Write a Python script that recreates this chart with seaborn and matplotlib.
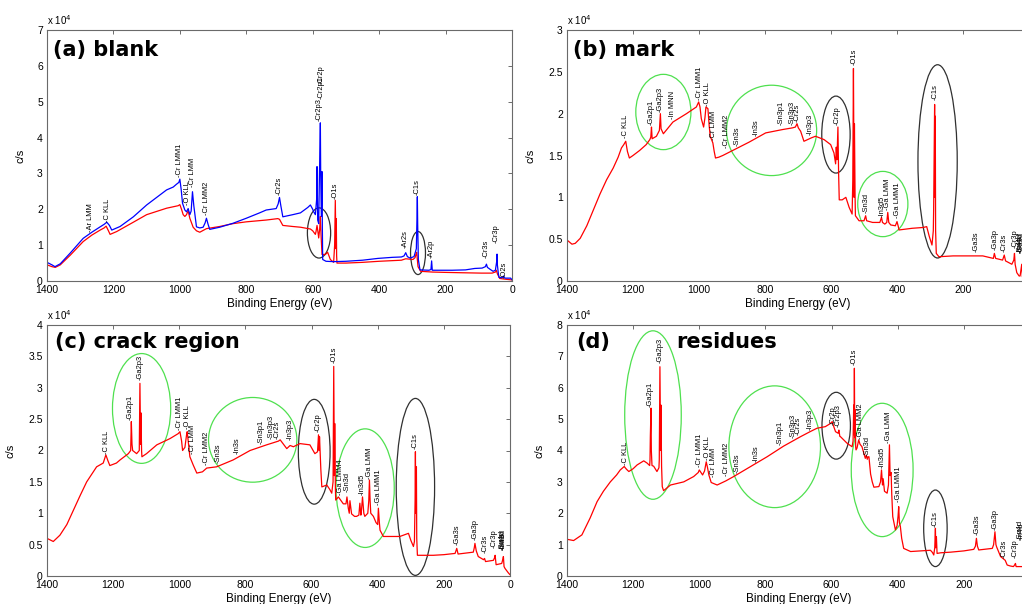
import numpy as np
import pandas as pd
import matplotlib
matplotlib.use("Agg")
import matplotlib.pyplot as plt
from matplotlib.patches import Ellipse
from matplotlib.ticker import FuncFormatter, MultipleLocator
import seaborn as sns

sns.set_style("white")
plt.rcParams["font.family"] = ["Liberation Sans", "DejaVu Sans"]
plt.rcParams["text.color"] = "black"
plt.rcParams["axes.labelcolor"] = "black"

# ---------------------------------------------------------------------------
# XPS survey spectra: (binding energy [eV], intensity [10^4 c/s])
# ---------------------------------------------------------------------------
blank_red = [
    (1400, 0.45), (1385, 0.40), (1375, 0.38), (1360, 0.45), (1330, 0.72), (1291, 1.10),
    (1265, 1.28), (1240, 1.42), (1228, 1.48), (1222, 1.53), (1215, 1.40), (1210, 1.30),
    (1190, 1.38), (1140, 1.64), (1100, 1.85), (1040, 2.03), (1005, 2.10), (1000, 2.13),
    (995, 2.00), (990, 1.85), (985, 1.80), (980, 1.85), (975, 1.96), (970, 1.75),
    (960, 1.50), (950, 1.40), (940, 1.36), (920, 1.46), (880, 1.52), (840, 1.60),
    (800, 1.65), (740, 1.70), (705, 1.74), (700, 1.72), (690, 1.55), (660, 1.52),
    (637, 1.50), (607, 1.45), (600, 1.40), (592, 1.30), (590, 1.38), (587, 1.55),
    (584, 1.35), (582, 1.20), (579, 1.45), (577, 1.80), (575, 1.30), (572, 0.74),
    (562, 0.74), (555, 0.80), (547, 0.60), (537, 0.52), (534, 1.00), (532, 2.25),
    (530, 0.90), (529, 1.74), (528, 0.70), (527, 0.50), (500, 0.50), (450, 0.52),
    (400, 0.55), (333, 0.58), (320, 0.62), (298, 0.60), (292, 0.65), (289, 0.75),
    (287, 0.80), (285, 0.60), (283, 0.40), (275, 0.27), (240, 0.25), (200, 0.24),
    (150, 0.23), (92, 0.22), (60, 0.22), (50, 0.25), (47, 0.30), (44, 0.20),
    (37, 0.07), (20, 0.05), (0, 0.03),
]
blank_blue = [
    (1400, 0.52), (1385, 0.45), (1376, 0.40), (1360, 0.48), (1330, 0.78), (1291, 1.19),
    (1265, 1.36), (1240, 1.51), (1228, 1.58), (1220, 1.64), (1212, 1.55), (1205, 1.42),
    (1180, 1.52), (1140, 1.79), (1100, 2.12), (1040, 2.54), (1020, 2.62), (1010, 2.70),
    (1003, 2.75), (1000, 2.84), (996, 2.55), (992, 2.17), (985, 1.98), (980, 1.93),
    (975, 2.02), (970, 1.85), (966, 1.95), (962, 2.49), (958, 2.10), (950, 1.51),
    (940, 1.48), (930, 1.50), (924, 1.62), (920, 1.75), (915, 1.58), (910, 1.44),
    (880, 1.50), (840, 1.61), (800, 1.75), (760, 1.90), (740, 1.98), (710, 2.02),
    (704, 2.15), (700, 2.33), (696, 2.10), (690, 1.79), (660, 1.85), (637, 1.90),
    (615, 2.05), (607, 2.12), (600, 2.00), (597, 1.93), (592, 1.85), (588, 2.30),
    (587, 3.19), (585, 1.70), (582, 1.60), (580, 2.80), (578, 3.80), (577, 4.41),
    (576, 3.00), (574, 1.80), (572, 3.05), (571, 1.50), (570, 0.60), (560, 0.55),
    (537, 0.54), (500, 0.55), (450, 0.58), (404, 0.63), (360, 0.66), (333, 0.67),
    (325, 0.70), (320, 0.79), (315, 0.68), (307, 0.64), (295, 0.68), (288, 0.90),
    (286, 1.80), (285, 2.35), (284, 1.60), (282, 0.60), (277, 0.31), (250, 0.30),
    (244, 0.32), (242, 0.56), (240, 0.30), (230, 0.30), (180, 0.30), (140, 0.31),
    (112, 0.35), (90, 0.36), (80, 0.40), (77, 0.47), (74, 0.38), (65, 0.32),
    (57, 0.27), (50, 0.30), (46, 0.55), (45, 0.75), (44, 0.45), (41, 0.20),
    (39, 0.10), (30, 0.09), (25, 0.14), (23, 0.09), (20, 0.08), (4, 0.08), (0, 0.03),
]
mark_red = [
    (1400, 0.49), (1385, 0.44), (1375, 0.45), (1360, 0.51), (1340, 0.66), (1320, 0.85),
    (1300, 1.04), (1280, 1.21), (1260, 1.35), (1245, 1.48), (1235, 1.59), (1228, 1.63),
    (1222, 1.67), (1217, 1.55), (1211, 1.47), (1200, 1.50), (1180, 1.56), (1160, 1.63),
    (1149, 1.69), (1146, 1.72), (1144, 1.84), (1142, 1.70), (1129, 1.73), (1120, 1.80),
    (1117, 2.00), (1115, 1.82), (1108, 1.76), (1079, 1.90), (1038, 2.00), (1008, 2.08),
    (1001, 2.14), (997, 2.08), (993, 1.94), (986, 1.84), (982, 1.95), (979, 2.08),
    (973, 2.06), (969, 1.85), (966, 1.73), (958, 1.65), (954, 1.55), (950, 1.47),
    (940, 1.48), (928, 1.50), (898, 1.56), (848, 1.66), (798, 1.77), (747, 1.81),
    (717, 1.83), (708, 1.84), (703, 1.88), (699, 1.83), (692, 1.79), (682, 1.67),
    (660, 1.71), (647, 1.73), (621, 1.69), (601, 1.63), (591, 1.53), (586, 1.40),
    (584, 1.60), (582, 1.45), (579, 1.84), (577, 1.30), (575, 0.97), (566, 0.97),
    (555, 1.00), (545, 0.88), (536, 0.80), (534, 1.20), (532, 2.54), (530, 1.00),
    (529, 1.88), (527, 1.00), (526, 0.78), (515, 0.72), (500, 0.72), (495, 0.78),
    (492, 0.72), (474, 0.70), (452, 0.70), (447, 0.76), (444, 0.70), (437, 0.68),
    (431, 0.70), (428, 0.82), (425, 0.70), (419, 0.67), (405, 0.66), (400, 0.71),
    (396, 0.65), (394, 0.61), (354, 0.63), (320, 0.64), (310, 0.65), (302, 0.53),
    (294, 0.43), (290, 0.60), (289, 0.84), (286, 2.11), (285, 1.00), (284, 1.97),
    (283, 0.60), (281, 0.33), (273, 0.29), (230, 0.30), (172, 0.30), (140, 0.30),
    (108, 0.27), (105, 0.33), (101, 0.27), (80, 0.25), (75, 0.31), (71, 0.24),
    (52, 0.20), (46, 0.25), (44, 0.33), (42, 0.20), (37, 0.10), (30, 0.06),
    (27, 0.06), (22, 0.20), (20, 0.05), (0, 0.04),
]
crack_red = [
    (1400, 0.60), (1381, 0.55), (1361, 0.65), (1340, 0.82), (1320, 1.05), (1300, 1.28),
    (1280, 1.50), (1265, 1.62), (1250, 1.74), (1230, 1.80), (1222, 1.93), (1216, 1.84),
    (1210, 1.76), (1190, 1.80), (1179, 1.85), (1154, 1.95), (1147, 2.00), (1145, 2.46),
    (1143, 2.10), (1141, 2.00), (1129, 1.95), (1121, 2.00), (1119, 3.07), (1117, 2.10),
    (1116, 2.60), (1114, 2.00), (1113, 1.90), (1099, 1.95), (1068, 2.09), (1028, 2.19),
    (1003, 2.27), (998, 2.30), (993, 2.15), (990, 2.00), (983, 2.05), (978, 2.25),
    (976, 2.30), (968, 1.90), (958, 1.77), (947, 1.64), (930, 1.66), (917, 1.72),
    (887, 1.74), (837, 1.85), (786, 2.00), (736, 2.09), (700, 2.15), (695, 2.17),
    (685, 2.10), (675, 2.03), (665, 2.08), (655, 2.06), (635, 2.11), (605, 2.09),
    (590, 1.95), (582, 1.98), (579, 2.25), (577, 2.00), (576, 2.22), (572, 1.70),
    (569, 1.42), (554, 1.45), (545, 1.38), (539, 1.32), (535, 1.50), (533, 3.34),
    (531, 1.60), (530, 2.43), (528, 1.40), (527, 1.21), (519, 1.26), (504, 1.15),
    (496, 1.15), (493, 1.26), (489, 1.08), (486, 1.00), (484, 1.20), (479, 0.99),
    (470, 0.95), (464, 0.95), (457, 0.97), (454, 1.16), (451, 0.97), (449, 1.05),
    (446, 1.26), (442, 1.00), (439, 0.95), (430, 1.00), (427, 1.20), (425, 1.53),
    (423, 1.20), (421, 1.00), (413, 0.95), (405, 0.85), (400, 0.82), (398, 1.08),
    (395, 0.85), (393, 0.73), (383, 0.63), (333, 0.63), (307, 0.68), (300, 0.57),
    (292, 0.47), (289, 0.55), (287, 1.20), (286, 1.98), (285, 1.00), (283, 1.74),
    (282, 0.60), (280, 0.33), (232, 0.33), (200, 0.34), (166, 0.36), (161, 0.44),
    (157, 0.35), (111, 0.38), (108, 0.45), (106, 0.52), (102, 0.40), (96, 0.31),
    (80, 0.26), (77, 0.28), (74, 0.23), (50, 0.25), (46, 0.30), (45, 0.33),
    (42, 0.18), (25, 0.20), (21, 0.28), (20, 0.31), (18, 0.15), (15, 0.12),
    (5, 0.05), (0, 0.02),
]
residue_red = [
    (1400, 1.17), (1380, 1.13), (1355, 1.31), (1330, 1.85), (1309, 2.37), (1290, 2.70),
    (1269, 3.00), (1250, 3.22), (1239, 3.38), (1227, 3.49), (1220, 3.40), (1213, 3.33),
    (1200, 3.42), (1188, 3.54), (1168, 3.67), (1158, 3.60), (1150, 3.52), (1149, 3.70),
    (1148, 4.44), (1146, 5.35), (1145, 4.00), (1143, 3.52), (1138, 3.50), (1128, 3.33),
    (1122, 3.45), (1121, 3.70), (1119, 6.67), (1117, 4.00), (1116, 5.45), (1114, 3.50),
    (1112, 2.85), (1108, 2.72), (1087, 2.90), (1047, 3.00), (1017, 3.17), (1003, 3.30),
    (1000, 3.38), (995, 3.30), (990, 3.22), (984, 3.35), (979, 3.64), (975, 3.45),
    (971, 3.22), (964, 2.98), (946, 2.90), (920, 3.03), (896, 3.17), (845, 3.49),
    (795, 3.80), (745, 4.14), (694, 4.44), (665, 4.60), (644, 4.71), (619, 4.76),
    (605, 4.85), (598, 4.92), (593, 4.75), (588, 4.60), (580, 4.55), (578, 4.65),
    (575, 4.45), (573, 4.44), (553, 4.23), (538, 4.12), (535, 4.30), (533, 5.45),
    (532, 4.50), (531, 6.62), (530, 4.40), (529, 5.30), (527, 4.10), (526, 4.02),
    (523, 4.08), (518, 4.34), (514, 4.20), (508, 4.12), (498, 3.75), (495, 3.85),
    (492, 3.72), (490, 3.80), (487, 3.80), (484, 3.45), (482, 3.25), (477, 3.00),
    (472, 2.83), (457, 2.85), (452, 3.00), (449, 3.38), (446, 2.90), (444, 3.10),
    (440, 2.70), (432, 2.64), (428, 2.90), (426, 3.80), (425, 4.18), (423, 3.20),
    (420, 3.30), (418, 2.60), (415, 1.89), (407, 1.47), (402, 1.60), (399, 1.90),
    (397, 2.21), (395, 1.70), (392, 1.58), (388, 1.20), (382, 0.88), (361, 0.78),
    (330, 0.80), (301, 0.82), (295, 0.75), (291, 0.67), (288, 0.90), (286, 1.52),
    (285, 0.90), (283, 1.25), (281, 0.72), (270, 0.74), (240, 0.76), (200, 0.80),
    (170, 0.85), (165, 0.95), (162, 1.20), (159, 0.95), (155, 0.83), (114, 0.88),
    (110, 1.00), (106, 1.41), (103, 1.00), (101, 0.93), (96, 0.80), (89, 0.62),
    (75, 0.50), (69, 0.35), (60, 0.32), (50, 0.30), (46, 0.36), (44, 0.40),
    (42, 0.30), (24, 0.30), (20, 0.28), (0, 0.26),
]

# Peak assignments: (label, binding energy [eV], label base [10^4 c/s])
blank_peaks = [
    ("-Ar LMM", 1270, 1.37), ("-C KLL", 1218, 1.65), ("-Cr LMM1", 1000, 2.91),
    ("-O KLL", 976, 2.12), ("-Cr LMM", 961, 2.63), ("-Cr LMM2", 919, 1.84),
    ("-Cr2s", 700, 2.40), ("-Cr2p3", 580, 4.47), ("-Cr2p1", 576, 5.07),
    ("-Cr2p", 574, 5.50), ("-O1s", 533, 2.29), ("-Ar2s", 322, 0.91),
    ("-C1s", 287, 2.40), ("-Ar2p", 244, 0.63), ("-Cr3s", 79, 0.63),
    ("-Cr3p", 47, 1.05), ("-O2s", 25, 0.07),
]
mark_peaks = [
    ("-C KLL", 1222, 1.71), ("-Ga2p1", 1146, 1.86), ("-Ga2p3", 1118, 2.02),
    ("-In MNN", 1080, 1.94), ("-Cr LMM1", 1000, 2.16), ("-O KLL", 975, 2.09),
    ("-Cr LMM", 955, 1.68), ("-Cr LMM2", 916, 1.59), ("-Sn3s", 883, 1.61),
    ("-In3s", 827, 1.73), ("-Sn3p1", 751, 1.86), ("-Sn3p3", 717, 1.86),
    ("-Cr2s", 703, 1.90), ("-In3p3", 664, 1.74), ("-Cr2p", 580, 1.86),
    ("-O1s", 531, 2.58), ("-Sn3d", 493, 0.81), ("-In3d5", 446, 0.77),
    ("-Ga LMM", 428, 0.85), ("-Ga LMM1", 398, 0.75), ("-C1s", 284, 2.16),
    ("-Ga3s", 161, 0.35), ("-Ga3p", 104, 0.37), ("-Cr3s", 74, 0.35),
    ("-Cr3p", 43, 0.39), ("-Sn4d", 28, 0.33), ("-In4d", 26, 0.33), ("-Ga3d", 24, 0.33),
]
crack_peaks = [
    ("-C KLL", 1220, 1.95), ("-Ga2p1", 1147, 2.48), ("-Ga2p3", 1119, 3.12),
    ("-Cr LMM1", 1000, 2.33), ("-O KLL", 976, 2.34), ("-Cr LMM", 960, 1.94),
    ("-Cr LMM2", 917, 1.77), ("-Sn3s", 882, 1.80), ("-In3s", 826, 1.95),
    ("-Sn3p1", 752, 2.10), ("-Sn3p3", 721, 2.18), ("-Cr2s", 703, 2.18),
    ("-In3p3", 665, 2.17), ("-Cr2p", 580, 2.30), ("-O1s", 532, 3.39),
    ("-Ga LMM4", 514, 1.29), ("-Sn3d", 491, 1.34), ("-In3d5", 447, 1.29),
    ("-Ga LMM", 425, 1.55), ("-Ga LMM1", 398, 1.13), ("-C1s", 286, 2.03),
    ("-Ga3s", 160, 0.49), ("-Ga3p", 106, 0.57), ("-Cr3s", 76, 0.36),
    ("-Cr3p", 49, 0.44), ("-Sn4d", 23, 0.41), ("-In4d", 21, 0.41), ("-Ga3d", 20, 0.41),
]
residue_peaks = [
    ("-C KLL", 1224, 3.54), ("-Ga2p1", 1147, 5.40), ("-Ga2p3", 1119, 6.78),
    ("-Cr LMM1", 1000, 3.49), ("-O KLL", 976, 3.70), ("-Cr LMM", 956, 3.17),
    ("-Cr LMM2", 919, 3.20), ("-Sn3s", 886, 3.29), ("-In3s", 827, 3.62),
    ("-Sn3p1", 755, 4.18), ("-Sn3p3", 717, 4.39), ("-Cr2s", 701, 4.50),
    ("-In3p3", 666, 4.65), ("-Cr2p", 595, 4.81), ("-Cr2p3", 581, 4.76),
    ("-O1s", 531, 6.73), ("-Ga LMM2", 513, 4.36), ("-Sn3d", 492, 3.83),
    ("-In3d5", 447, 3.43), ("-Ga LMM", 427, 4.25), ("-Ga LMM1", 397, 2.37),
    ("-C1s", 286, 1.57), ("-Ga3s", 160, 1.31), ("-Ga3p", 106, 1.47),
    ("-Cr3s", 77, 0.56), ("-Cr3p", 44, 0.56), ("-Sn4d", 29, 1.15), ("-In4d", 27, 1.15),
]

# Highlighted regions: (colour, centre eV, centre [10^4 c/s], width eV, height [10^4 c/s])
GREEN = "#4fe04f"
BLACK = "#303030"
blank_rings = [(BLACK, 581, 1.34, 70, 1.40), (BLACK, 283, 0.78, 45, 1.20)]
mark_rings = [
    (GREEN, 1108, 2.02, 167, 0.90), (GREEN, 780, 1.80, 273, 1.08),
    (BLACK, 585, 1.75, 86, 0.92), (GREEN, 443, 0.92, 152, 0.78),
    (BLACK, 277, 1.43, 119, 2.31),
]
crack_rings = [
    (GREEN, 1114, 2.67, 176, 1.75), (GREEN, 778, 2.17, 267, 1.35),
    (BLACK, 592, 1.98, 96, 1.67), (GREEN, 438, 1.40, 176, 1.89),
    (BLACK, 286, 1.42, 116, 2.82),
]
residue_rings = [
    (GREEN, 1140, 5.13, 171, 5.37), (GREEN, 772, 4.12, 277, 3.88),
    (BLACK, 586, 4.79, 86, 2.13), (GREEN, 447, 3.38, 187, 4.25),
    (BLACK, 286, 1.52, 71, 2.44),
]

W, H = 1022, 604
fig = plt.figure(figsize=(W / 100, H / 100), dpi=100)


def px_rect(left, right, top, bottom):
    return [left / W, (H - bottom) / H, (right - left) / W, (bottom - top) / H]


def draw_panel(rect, series, ymax, ystep, peaks, rings, titles, title_y, ylab_x):
    ax = fig.add_axes(rect)
    for pts, color in series:
        be, inten = zip(*pts)
        df = pd.DataFrame({"be": be, "cps": np.array(inten) * 1e4})
        sns.lineplot(data=df, x="be", y="cps", color=color, lw=0.9, sort=False,
                     estimator=None, legend=False, ax=ax)
    ax.set_xlim(1400, 0)
    ax.set_ylim(0, ymax * 1e4)
    ax.xaxis.set_major_locator(MultipleLocator(200))
    ax.yaxis.set_major_locator(MultipleLocator(ystep * 1e4))
    ax.yaxis.set_major_formatter(FuncFormatter(lambda v, p: f"{v / 1e4:g}"))
    ax.xaxis.set_major_formatter(FuncFormatter(lambda v, p: f"{v:g}"))
    ax.tick_params(direction="in", top=True, right=True, length=3, width=0.6,
                   color="#555555", labelcolor="black", labelsize=7.5, pad=3)
    for s in ax.spines.values():
        s.set_color("#6a6a6a")
        s.set_linewidth(0.8)
    ax.set_xlabel("Binding Energy (eV)", fontsize=8.5, labelpad=2, color="black")
    ax.set_ylabel("c/s", fontsize=8, color="black")
    ax.yaxis.set_label_coords(ylab_x, 0.5)
    ax.text(0.0, 1.012, r"x 10$^{4}$", transform=ax.transAxes, fontsize=7,
            ha="left", va="bottom", color="black")
    for name, e, h in peaks:
        ax.text(e, h * 1e4, name, rotation=90, ha="center", va="bottom",
                fontsize=5.4, color="black", clip_on=False)
    for color, ce, cy, w, h in rings:
        ax.add_patch(Ellipse((ce, cy * 1e4), w, h * 1e4, fill=False,
                             edgecolor=color, lw=0.9))
    for txt, tx in titles:
        ax.text(tx, title_y, txt, transform=ax.transAxes, fontsize=15,
                fontweight="bold", family="DejaVu Sans", color="black",
                ha="left", va="baseline")
    return ax


draw_panel(px_rect(47, 512, 30, 281), [(blank_red, "#ff0000"), (blank_blue, "#0000ff")],
           7, 1, blank_peaks, blank_rings, [("(a) blank", 0.013)], 0.895, -0.047)
draw_panel(px_rect(567, 1029, 30, 281), [(mark_red, "#ff0000")],
           3, 0.5, mark_peaks, mark_rings, [("(b) mark", 0.013)], 0.895, -0.069)
draw_panel(px_rect(47, 510, 325, 576), [(crack_red, "#ff0000")],
           4, 0.5, crack_peaks, crack_rings, [("(c) crack region", 0.017)], 0.908, -0.069)
draw_panel(px_rect(567, 1030, 325, 576), [(residue_red, "#ff0000")],
           8, 1, residue_peaks, residue_rings, [("(d)", 0.019), ("residues", 0.236)], 0.908, -0.048)

fig.savefig("out.png", dpi=100)
